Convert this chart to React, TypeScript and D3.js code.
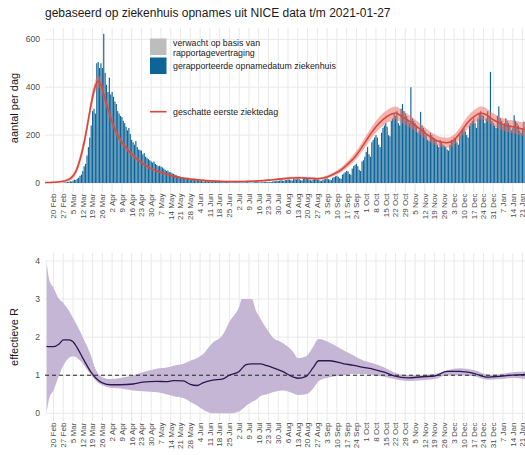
import React from 'react';
import * as d3 from 'd3';

const W = 525;
const H = 455;
const TITLE = 'gebaseerd op ziekenhuis opnames uit NICE data t/m 2021-01-27';

// Daily reported hospital admissions (NICE), per month block
const admissionStarts = ['2020-02-27', '2020-03-01', '2020-04-01', '2020-05-01', '2020-06-01', '2020-07-01', '2020-08-01', '2020-09-01', '2020-10-01', '2020-11-01', '2020-12-01', '2021-01-01'];
const admFeb = [1, 2, 3];
const admMar = [4, 5, 8, 6, 10, 14, 12, 18, 22, 30, 35, 50, 70, 80, 115, 150, 190, 240, 300, 310, 290, 500, 505, 480, 500, 480, 623, 460, 410, 380, 440];
const admApr = [370, 380, 360, 340, 330, 300, 290, 280, 275, 260, 250, 235, 220, 230, 205, 180, 170, 160, 175, 150, 140, 137, 135, 120, 125, 110, 105, 100, 95, 90];
const admMay = [85, 90, 80, 75, 70, 72, 68, 65, 60, 55, 50, 52, 45, 45, 40, 38, 35, 32, 30, 28, 26, 25, 22, 20, 22, 18, 17, 15, 14, 13, 12];
const admJun = [11, 12, 10, 9, 8, 7, 6, 9, 8, 7, 6, 5, 5, 4, 6, 7, 5, 4, 4, 3, 3, 5, 4, 4, 3, 3, 3, 2, 4, 3];
const admJul = [3, 4, 2, 3, 2, 2, 4, 3, 3, 2, 2, 2, 3, 4, 3, 3, 2, 3, 3, 4, 5, 4, 3, 5, 4, 6, 8, 7, 9, 8, 10];
const admAug = [12, 10, 9, 14, 12, 15, 14, 12, 10, 16, 18, 15, 20, 16, 12, 10, 18, 22, 24, 18, 15, 12, 10, 14, 16, 18, 15, 13, 10, 9, 14];
const admSep = [15, 18, 20, 16, 14, 12, 22, 25, 28, 30, 26, 20, 18, 35, 40, 45, 50, 48, 38, 35, 60, 70, 75, 80, 70, 55, 50, 90, 95, 110];
const admOct = [130, 150, 120, 110, 170, 180, 190, 200, 190, 160, 150, 210, 230, 240, 250, 235, 200, 195, 260, 270, 290, 280, 300, 250, 240, 310, 330, 300, 290, 280, 260];
const admNov = [250, 400, 270, 260, 250, 240, 210, 220, 297, 240, 230, 220, 200, 180, 175, 210, 200, 190, 185, 175, 160, 150, 180, 170, 160, 155, 150, 140, 135, 160];
const admDec = [180, 175, 190, 185, 170, 160, 200, 210, 220, 230, 215, 200, 190, 240, 250, 260, 270, 250, 230, 270, 290, 300, 285, 280, 250, 270, 300, 280, 464, 260, 250];
const admJan = [240, 230, 280, 320, 270, 260, 240, 250, 270, 260, 250, 240, 220, 230, 283, 260, 250, 240, 220, 210, 230, 255, 220, 200, 180, 160, 120];
const admissionBlocks = [admFeb, admMar, admApr, admMay, admJun, admJul, admAug, admSep, admOct, admNov, admDec, admJan];

// Expected extra admissions due to reporting delay
const expectedStart = '2021-01-20';
const expectedExtra = [0, 0, 5, 10, 20, 35, 55, 90];

// Estimated first day of illness (red line and band)
const onsetDates = [
  '2020-02-14', '2020-02-20', '2020-02-27', '2020-03-03', '2020-03-07', '2020-03-10', '2020-03-13', '2020-03-16', '2020-03-19', '2020-03-21',
  '2020-03-23', '2020-03-25', '2020-03-27', '2020-03-30', '2020-04-02', '2020-04-06', '2020-04-09', '2020-04-13', '2020-04-16', '2020-04-20',
  '2020-04-23', '2020-04-27', '2020-04-30', '2020-05-07', '2020-05-14', '2020-05-21', '2020-05-28', '2020-06-04', '2020-06-11', '2020-06-18',
  '2020-06-25', '2020-07-02', '2020-07-09', '2020-07-16', '2020-07-23', '2020-07-30', '2020-08-06', '2020-08-13', '2020-08-20', '2020-08-27',
  '2020-09-03', '2020-09-08', '2020-09-13', '2020-09-18', '2020-09-23', '2020-09-28', '2020-10-03', '2020-10-08', '2020-10-13', '2020-10-18',
  '2020-10-22', '2020-10-26', '2020-10-30', '2020-11-03', '2020-11-08', '2020-11-13', '2020-11-18', '2020-11-23', '2020-11-28', '2020-12-03',
  '2020-12-08', '2020-12-13', '2020-12-18', '2020-12-22', '2020-12-26', '2020-12-30', '2021-01-04', '2021-01-09', '2021-01-14', '2021-01-19',
  '2021-01-24', '2021-01-27'];
const onsetValues = [
  2, 3, 7, 18, 48, 98, 170, 265, 360, 405,
  425, 410, 370, 310, 255, 200, 170, 140, 120, 100,
  85, 70, 60, 44, 32, 22, 17, 12, 9, 7,
  6, 6, 7, 9, 12, 16, 20, 22, 20, 18,
  25, 38, 55, 80, 110, 150, 195, 235, 265, 285,
  292, 280, 265, 250, 228, 205, 185, 172, 168, 180,
  215, 255, 280, 292, 285, 268, 252, 240, 235, 228,
  222, 220];
const onsetHalfWidth = [
  2, 3, 5, 8, 14, 18, 22, 24, 25, 25,
  25, 24, 22, 19, 16, 13, 11, 10, 9, 8,
  7, 6, 6, 5, 5, 4, 4, 3, 3, 3,
  3, 3, 3, 3, 4, 4, 5, 5, 5, 5,
  6, 8, 10, 13, 16, 19, 22, 24, 26, 27,
  27, 27, 26, 25, 24, 23, 22, 21, 21, 22,
  24, 26, 27, 27, 27, 26, 26, 26, 27, 28,
  30, 32];

// Effective R
const rDates = [
  '2020-02-15', '2020-02-17', '2020-02-20', '2020-02-24', '2020-02-27', '2020-03-02', '2020-03-05', '2020-03-08', '2020-03-12', '2020-03-17',
  '2020-03-22', '2020-03-26', '2020-04-01', '2020-04-08', '2020-04-17', '2020-04-24', '2020-05-04', '2020-05-11', '2020-05-16', '2020-05-23',
  '2020-05-28', '2020-06-02', '2020-06-06', '2020-06-13', '2020-06-20', '2020-06-25', '2020-07-02', '2020-07-04', '2020-07-07', '2020-07-11',
  '2020-07-14', '2020-07-17', '2020-07-22', '2020-07-26', '2020-08-02', '2020-08-10', '2020-08-13', '2020-08-19', '2020-08-24', '2020-08-28',
  '2020-09-05', '2020-09-15', '2020-09-22', '2020-09-27', '2020-10-07', '2020-10-14', '2020-10-21', '2020-10-31', '2020-11-10', '2020-11-19',
  '2020-11-28', '2020-12-07', '2020-12-17', '2020-12-27', '2020-12-31', '2021-01-07', '2021-01-14', '2021-01-23'];
const rMedian = [
  1.76, 1.75, 1.75, 1.82, 1.93, 1.93, 1.88, 1.72, 1.45, 1.13,
  0.9, 0.8, 0.75, 0.75, 0.77, 0.82, 0.84, 0.83, 0.86, 0.85,
  0.76, 0.73, 0.8, 0.87, 0.9, 1.0, 1.1, 1.18, 1.28, 1.3,
  1.3, 1.3, 1.25, 1.2, 1.1, 0.95, 0.92, 0.97, 1.2, 1.38,
  1.38, 1.3, 1.26, 1.22, 1.15, 1.08, 0.98, 0.93, 0.96, 0.98,
  1.1, 1.1, 1.05, 0.95, 0.96, 0.98, 1.0, 1.02];
const rLower = [
  0.0, 0.4, 0.6, 1.0, 1.25, 1.45, 1.5, 1.45, 1.3, 1.05,
  0.83, 0.74, 0.67, 0.65, 0.6, 0.58, 0.55, 0.5, 0.45, 0.4,
  0.3, 0.2, 0.1, 0.0, 0.0, 0.0, 0.05, 0.1, 0.2, 0.3,
  0.35, 0.45, 0.5, 0.55, 0.6, 0.52, 0.48, 0.5, 0.65, 0.85,
  0.95, 1.0, 1.03, 1.03, 1.0, 0.96, 0.9, 0.85, 0.87, 0.9,
  1.0, 1.0, 0.97, 0.88, 0.89, 0.9, 0.93, 0.9];
const rUpper = [
  4.0, 3.5, 3.3, 3.0, 2.9, 2.7, 2.5, 2.3, 2.0, 1.6,
  1.1, 0.95, 0.9, 0.93, 1.0, 1.08, 1.17, 1.2, 1.25, 1.3,
  1.38, 1.45, 1.55, 1.85, 2.05, 2.4, 2.8, 3.0, 3.0, 3.0,
  2.7, 2.5, 2.2, 2.0, 1.85, 1.6, 1.45, 1.5, 1.75, 1.95,
  1.85, 1.65, 1.52, 1.42, 1.3, 1.2, 1.07, 1.0, 1.0, 1.03,
  1.13, 1.18, 1.14, 1.02, 1.01, 1.04, 1.08, 1.1];

const topTicks = [0, 200, 400, 600];
const rTicks = [0, 1, 2, 3, 4];

const legendLabels = [
  ['verwacht op basis van', 'rapportagevertraging'],
  ['gerapporteerde opnamedatum ziekenhuis'],
  ['geschatte eerste ziektedag'],
];

const FONT = '"Liberation Sans", Arial, Helvetica, sans-serif';
const BAR = '#0e6497';
const GRAY_BAR = '#bdbdbd';
const RED = '#d8473a';
const RED_BAND = '#ee6a5e';
const PURPLE = '#2e1750';
const PURPLE_BAND = '#c6b6d6';
const GRID = '#e9e9e9';
const TICKTXT = '#4d4d4d';

const parse = d3.utcParse('%Y-%m-%d');
const fmt = d3.utcFormat('%-d %b');

export default function App() {
  const x0 = parse('2020-02-20') as Date;
  const x1 = parse('2021-01-21') as Date;
  const x = d3.scaleUtc().domain([x0, x1]).range([53.5, 53.5 + 336 * 1.396]);
  const dayW = x(d3.utcDay.offset(x0, 1)) - x(x0);

  const panelL = 45;
  const panelR = W;
  const topPanel = { t: 28, b: 189 };
  const botPanel = { t: 253, b: 418 };

  const yTop = d3.scaleLinear().domain([0, 600]).range([183, 39.3]);
  const yR = d3.scaleLinear().domain([0, 4]).range([413.3, 261]);

  const ticks = d3.utcThursday.range(x0, parse('2021-02-01') as Date);

  const bars: { date: Date; v: number }[] = [];
  admissionBlocks.forEach((blk, i) => {
    const s = parse(admissionStarts[i]) as Date;
    blk.forEach((v, j) => bars.push({ date: d3.utcDay.offset(s, j), v }));
  });
  const barMap = new Map(bars.map((b) => [+b.date, b.v]));
  const expStart = parse(expectedStart) as Date;
  const expBars = expectedExtra.map((v, j) => {
    const date = d3.utcDay.offset(expStart, j);
    return { date, base: barMap.get(+date) ?? 0, v };
  });

  const onset = onsetDates.map((d, i) => ({ date: parse(d) as Date, v: onsetValues[i], h: onsetHalfWidth[i] }));
  const onsetLine = d3.line<any>().x((d) => x(d.date)).y((d) => yTop(d.v)).curve(d3.curveMonotoneX);
  const onsetArea = d3.area<any>().x((d) => x(d.date)).y0((d) => yTop(Math.max(0, d.v - d.h))).y1((d) => yTop(d.v + d.h)).curve(d3.curveMonotoneX);

  const rData = rDates.map((d, i) => ({ date: parse(d) as Date, m: rMedian[i], lo: rLower[i], hi: rUpper[i] }));
  const rLine = d3.line<any>().x((d) => x(d.date)).y((d) => yR(d.m)).curve(d3.curveMonotoneX);
  const rArea = d3.area<any>().x((d) => x(d.date)).y0((d) => yR(d.lo)).y1((d) => yR(d.hi)).curve(d3.curveMonotoneX);

  const bw = dayW * 0.82;

  const xAxis = (panelBottom: number) => (
    <g>
      {ticks.map((t, i) => {
        const xx = x(t);
        if (xx > W + 10) return null;
        return (
          <g key={i}>
            <line x1={xx} x2={xx} y1={panelBottom} y2={panelBottom + 3} stroke="#cfcfcf" strokeWidth={0.6} />
            <text
              transform={`translate(${xx},${panelBottom + 4.5}) rotate(-90)`}
              textAnchor="end"
              dy="0.35em"
              fontSize={8.1}
              fill={TICKTXT}
              fontFamily={FONT}
            >
              {fmt(t)}
            </text>
          </g>
        );
      })}
    </g>
  );

  const vGrid = (top: number, bottom: number) =>
    ticks.map((t, i) => (
      <line key={i} x1={x(t)} x2={x(t)} y1={top} y2={bottom} stroke={GRID} strokeWidth={1} />
    ));

  return (
    <svg width={W} height={H} style={{ position: 'absolute', left: 0, top: 0, background: '#fff' }} fontFamily={FONT}>
      <defs>
        <clipPath id="clipTop">
          <rect x={panelL} y={topPanel.t} width={panelR - panelL} height={topPanel.b - topPanel.t} />
        </clipPath>
        <clipPath id="clipBot">
          <rect x={panelL} y={botPanel.t} width={panelR - panelL} height={botPanel.b - botPanel.t} />
        </clipPath>
      </defs>
      <rect x={0} y={0} width={W} height={H} fill="#fff" />
      <text x={45} y={17} fontSize={12} fill="#1a1a1a">{TITLE}</text>

      {/* Top panel */}
      <g>
        {topTicks.map((t) => (
          <line key={t} x1={panelL} x2={panelR} y1={yTop(t)} y2={yTop(t)} stroke={GRID} strokeWidth={1} />
        ))}
        {vGrid(topPanel.t, topPanel.b)}
        <g clipPath="url(#clipTop)">
          {bars.map((b, i) => (
            <rect key={i} x={x(b.date) - bw / 2} y={yTop(b.v)} width={bw} height={yTop(0) - yTop(b.v)} fill={BAR} />
          ))}
          {expBars.map((b, i) => (
            <rect key={'e' + i} x={x(b.date) - bw / 2} y={yTop(b.base + b.v)} width={bw} height={yTop(b.base) - yTop(b.base + b.v)} fill={GRAY_BAR} />
          ))}
          <path d={onsetArea(onset) || ''} fill={RED_BAND} opacity={0.5} />
          <path d={onsetLine(onset) || ''} fill="none" stroke={RED} strokeWidth={1.6} />
        </g>
        {topTicks.map((t) => (
          <text key={t} x={40} y={yTop(t)} dy="0.35em" textAnchor="end" fontSize={8.6} fill={TICKTXT}>{t}</text>
        ))}
        <text transform={`translate(18,${108}) rotate(-90)`} textAnchor="middle" fontSize={11} fill="#1a1a1a">aantal per dag</text>
        {xAxis(topPanel.b)}

        {/* legend */}
        <g>
          <rect x={150} y={38.5} width={16.5} height={16.5} fill={GRAY_BAR} />
          <text x={173} y={46} fontSize={8.8} fill="#1a1a1a">{legendLabels[0][0]}</text>
          <text x={173} y={55.5} fontSize={8.8} fill="#1a1a1a">{legendLabels[0][1]}</text>
          <rect x={150} y={57.5} width={16.5} height={16.5} fill={BAR} />
          <text x={173} y={69} fontSize={8.8} fill="#1a1a1a">{legendLabels[1][0]}</text>
          <line x1={150} x2={166.5} y1={111.7} y2={111.7} stroke={RED} strokeWidth={1.6} />
          <text x={173} y={114.5} fontSize={8.8} fill="#1a1a1a">{legendLabels[2][0]}</text>
        </g>
      </g>

      {/* Bottom panel */}
      <g>
        {rTicks.map((t) => (
          <line key={t} x1={panelL} x2={panelR} y1={yR(t)} y2={yR(t)} stroke={GRID} strokeWidth={1} />
        ))}
        {vGrid(botPanel.t, botPanel.b)}
        <g clipPath="url(#clipBot)">
          <path d={rArea(rData) || ''} fill={PURPLE_BAND} />
          <line x1={panelL} x2={panelR} y1={yR(1)} y2={yR(1)} stroke="#222" strokeWidth={1} strokeDasharray="4,3" />
          <path d={rLine(rData) || ''} fill="none" stroke={PURPLE} strokeWidth={1.3} />
        </g>
        {rTicks.map((t) => (
          <text key={t} x={40} y={yR(t)} dy="0.35em" textAnchor="end" fontSize={8.6} fill={TICKTXT}>{t}</text>
        ))}
        <text transform={`translate(18,${337}) rotate(-90)`} textAnchor="middle" fontSize={11} fill="#1a1a1a">effectieve R</text>
        {xAxis(botPanel.b)}
      </g>
    </svg>
  );
}
